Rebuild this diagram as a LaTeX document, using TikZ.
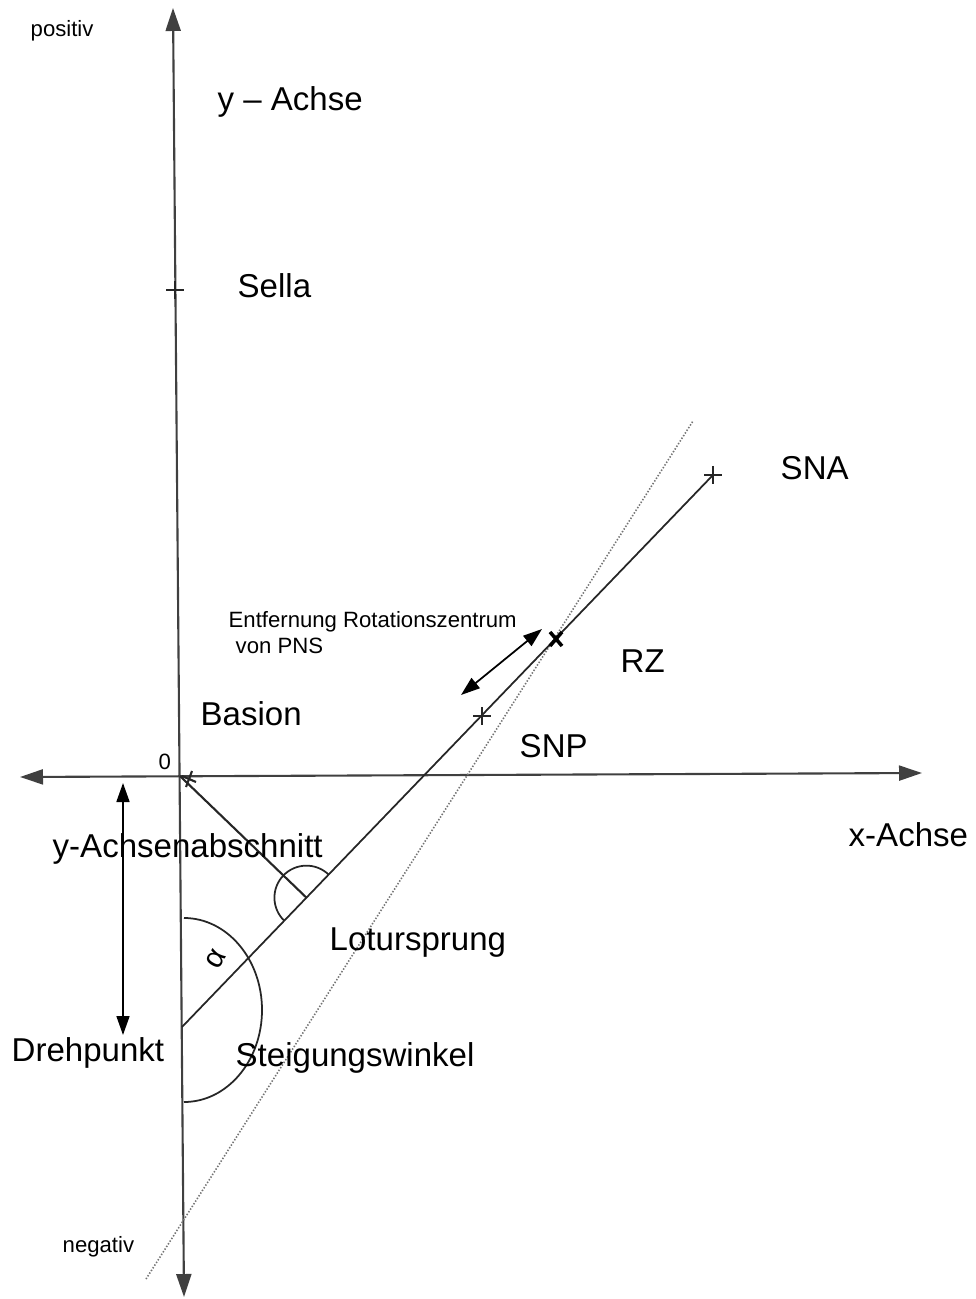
\documentclass[tikz,border=0pt]{standalone}
\usepackage{fontspec}
\setmainfont{Liberation Sans}
\usetikzlibrary{arrows.meta,calc}
\tikzset{
    achse/.style={line width=0.6pt, draw=black!75},
    linie/.style={line width=0.5pt, draw=black!85},
    punktiert/.style={line width=0.45pt, draw=black!55, dash pattern=on 0.4pt off 0.5pt},
    spitze/.style={{Triangle[length=2.3mm,width=1.5mm]}-{Triangle[length=2.3mm,width=1.5mm]}},
    pfeil/.style={line width=0.5pt, {Triangle[length=1.9mm,width=1.3mm]}-{Triangle[length=1.9mm,width=1.3mm]}},
    gross/.style={font=\fontsize{9.4}{11}\selectfont, inner sep=0pt, anchor=base west},
    klein/.style={font=\fontsize{6.3}{7.5}\selectfont, inner sep=0pt, anchor=base west}
}
\newcommand{\kreuz}[1]{\draw [linie,line width=0.6pt] (#1) ++(-9,0) -- ++(18,0) (#1) ++(0,-9) -- ++(0,18);}
\begin{document}
\begin{tikzpicture}[x=0.1mm,y=-0.1mm]
    \useasboundingbox (0,0) rectangle (975,1299);
    % punkte
    \coordinate (ursprung) at (180,776);\coordinate (dreh) at (182,1027);
    \coordinate (sna) at (713,475);\coordinate (snp) at (482,716);
    \coordinate (rz) at (556,639);\coordinate (sella) at (175,290);
    \coordinate (fuss) at ($(dreh)!(ursprung)!(sna)$);
    \coordinate (yoben) at (173,8);\coordinate (yunten) at (184,1297);
    \coordinate (xlinks) at (20,777);\coordinate (xrechts) at (922,773);
    \coordinate (dotunten) at (146,1279);\coordinate (dotoben) at (693,421);
    % achsen
    \draw [achse,spitze] (yunten) -- (yoben);
    \draw [achse,spitze] (xlinks) -- (xrechts);
    % geraden
    \draw [punktiert] (dotunten) -- (dotoben);
    \draw [linie] (dreh) -- (sna);
    \draw [linie,line width=0.6pt] (ursprung) -- (fuss);
    \draw [linie] ($(fuss)+(-46:32)$) arc [start angle=-46, end angle=-226, radius=32];
    \draw [linie] (184,918) arc [start angle=-90, end angle=90, x radius=78, y radius=92];
    % pfeile
    \coordinate (abs1) at (123,783);\coordinate (abs2) at (123,1035);
    \coordinate (ent1) at (461,695);\coordinate (ent2) at (542,629);
    \draw [pfeil] (abs1) -- (abs2);
    \draw [pfeil] (ent1) -- (ent2);
    % marker
    \kreuz{sella}\kreuz{snp}\kreuz{sna}
    \draw [linie,line width=0.6pt] (189,779) ++(-7,-3) -- ++(14,6) (189,779) ++(3,-8) -- ++(-6,16);
    \draw [line width=1pt] (rz) ++(-6,-7) -- ++(12,14) (rz) ++(6,-7) -- ++(-12,14);
    % texte
    \node [klein] (positiv) at (30,37) {positiv};
    \node [gross] (yachse) at (217,111) {y -- Achse};
    \node [gross] (sellatxt) at (237,298) {Sella};
    \node [gross] (snatxt) at (780,480) {SNA};
    \node [klein] (entf) at (228,627) {Entfernung Rotationszentrum};
    \node [klein] (pns) at (235,653) {von PNS};
    \node [gross] (rztxt) at (620,672) {RZ};
    \node [gross] (basion) at (200,725) {Basion};
    \node [gross] (snptxt) at (519,757) {SNP};
    \node [klein] (null) at (158,769) {0};
    \node [gross] (xachse) at (848,846) {x-Achse};
    \node [gross] (yabschn) at (52,857) {y-Achsenabschnitt};
    \node [gross] (lot) at (329,950) {Lotursprung};
    \node [font=\fontsize{8.5}{9}\selectfont, inner sep=0pt, rotate=60] (alpha) at (216,959) {α};
    \node [gross] (drehtxt) at (11,1061) {Drehpunkt};
    \node [gross] (steig) at (235,1066) {Steigungswinkel};
    \node [klein] (negativ) at (62,1252) {negativ};
\end{tikzpicture}
\end{document}
